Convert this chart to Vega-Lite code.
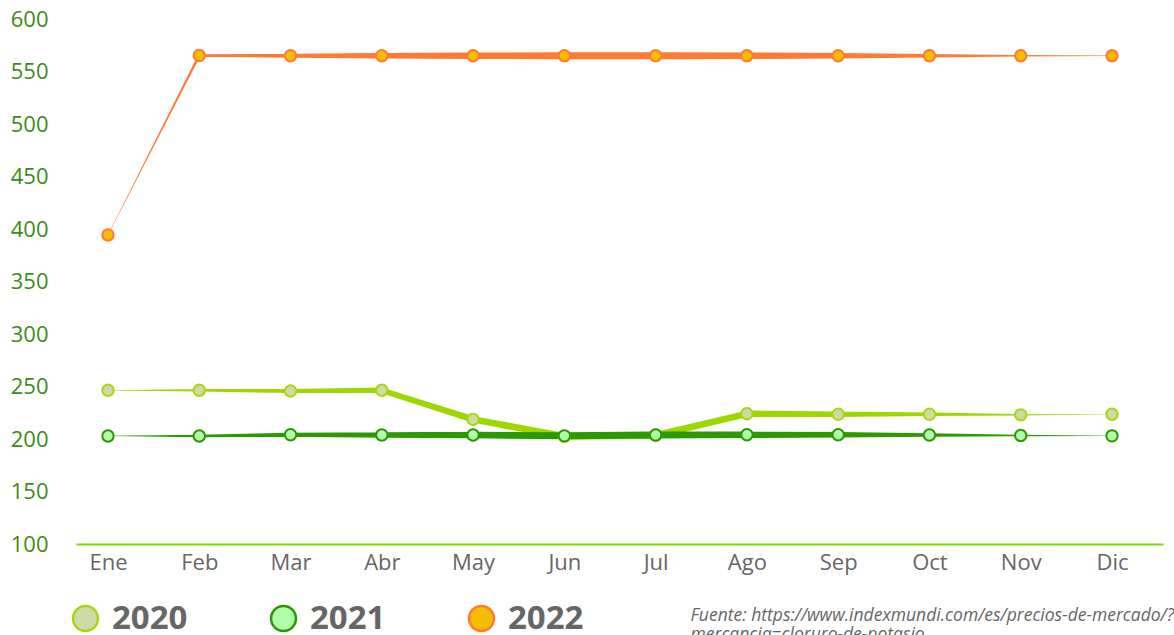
{
  "$schema": "https://vega.github.io/schema/vega-lite/v6.json",
  "autosize": "none",
  "width": 1087,
  "height": 525,
  "padding": {"left": 76, "top": 19, "right": 11, "bottom": 91},
  "background": "white",
  "config": {
    "view": {"stroke": null},
    "font": "Open Sans"
  },
  "data": {
    "values": [
      {"month": "Ene", "m": 1, "year": "2020", "value": 246.4},
      {"month": "Feb", "m": 2, "year": "2020", "value": 246.4},
      {"month": "Mar", "m": 3, "year": "2020", "value": 245.7},
      {"month": "Abr", "m": 4, "year": "2020", "value": 246.4},
      {"month": "May", "m": 5, "year": "2020", "value": 218.7},
      {"month": "Jun", "m": 6, "year": "2020", "value": 202.5},
      {"month": "Jul", "m": 7, "year": "2020", "value": 203.5},
      {"month": "Ago", "m": 8, "year": "2020", "value": 224},
      {"month": "Sep", "m": 9, "year": "2020", "value": 223.5},
      {"month": "Oct", "m": 10, "year": "2020", "value": 223.5},
      {"month": "Nov", "m": 11, "year": "2020", "value": 223},
      {"month": "Dic", "m": 12, "year": "2020", "value": 223.5},
      {"month": "Ene", "m": 1, "year": "2021", "value": 202.9},
      {"month": "Feb", "m": 2, "year": "2021", "value": 202.9},
      {"month": "Mar", "m": 3, "year": "2021", "value": 204},
      {"month": "Abr", "m": 4, "year": "2021", "value": 203.8},
      {"month": "May", "m": 5, "year": "2021", "value": 203.8},
      {"month": "Jun", "m": 6, "year": "2021", "value": 203},
      {"month": "Jul", "m": 7, "year": "2021", "value": 203.8},
      {"month": "Ago", "m": 8, "year": "2021", "value": 204},
      {"month": "Sep", "m": 9, "year": "2021", "value": 204},
      {"month": "Oct", "m": 10, "year": "2021", "value": 203.8},
      {"month": "Nov", "m": 11, "year": "2021", "value": 203.3},
      {"month": "Dic", "m": 12, "year": "2021", "value": 203},
      {"month": "Ene", "m": 1, "year": "2022", "value": 394.3},
      {"month": "Feb", "m": 2, "year": "2022", "value": 565.3},
      {"month": "Mar", "m": 3, "year": "2022", "value": 565},
      {"month": "Abr", "m": 4, "year": "2022", "value": 565},
      {"month": "May", "m": 5, "year": "2022", "value": 565},
      {"month": "Jun", "m": 6, "year": "2022", "value": 565},
      {"month": "Jul", "m": 7, "year": "2022", "value": 565},
      {"month": "Ago", "m": 8, "year": "2022", "value": 565},
      {"month": "Sep", "m": 9, "year": "2022", "value": 565},
      {"month": "Oct", "m": 10, "year": "2022", "value": 565},
      {"month": "Nov", "m": 11, "year": "2022", "value": 565},
      {"month": "Dic", "m": 12, "year": "2022", "value": 565}
    ]
  },
  "encoding": {
    "x": {
      "field": "month",
      "type": "ordinal",
      "sort": ["Ene", "Feb", "Mar", "Abr", "May", "Jun", "Jul", "Ago", "Sep", "Oct", "Nov", "Dic"],
      "scale": {"type": "point", "padding": 0.4547, "align": 0.3855},
      "axis": {
        "labelAngle": 0,
        "labelFontSize": 22,
        "labelColor": "#666666",
        "labelPadding": 8,
        "ticks": false,
        "grid": false,
        "domainColor": "#7ddc00",
        "domainWidth": 2,
        "title": ["Fuente: https://www.indexmundi.com/es/precios-de-mercado/?", "mercancia=cloruro-de-potasio"],
        "titleFontSize": 17.5,
        "titleFontStyle": "italic",
        "titleFontWeight": "normal",
        "titleColor": "#666666",
        "titleAlign": "left",
        "titleAnchor": "start",
        "titleBaseline": "alphabetic",
        "titleX": 614,
        "titleY": 76,
        "titleLineHeight": 19
      }
    },
    "y": {
      "field": "value",
      "type": "quantitative",
      "scale": {"domain": [100, 600], "nice": false, "zero": false},
      "axis": {
        "values": [100, 150, 200, 250, 300, 350, 400, 450, 500, 550, 600],
        "labelFontSize": 22,
        "labelColor": "#3d8b17",
        "labelPadding": 28,
        "ticks": false,
        "domain": false,
        "grid": false,
        "title": null
      }
    }
  },
  "layer": [
    {
      "transform": [{"filter": "datum.year === '2020'"}],
      "mark": {"type": "trail", "color": "#9ed600"},
      "encoding": {
        "size": {
          "field": "m",
          "type": "quantitative",
          "scale": {"type": "threshold", "domain": [1.5, 2.5, 3.5, 4.5, 5.5, 6.5, 7.5, 8.5, 9.5, 10.5, 11.5], "range": [0.3, 2.5, 4, 5.5, 6.5, 7, 7, 6.5, 5.5, 3.5, 1.5, 0.3]},
          "legend": null
        }
      }
    },
    {
      "transform": [{"filter": "datum.year === '2021'"}],
      "mark": {"type": "trail", "color": "#2a9a00"},
      "encoding": {
        "size": {
          "field": "m",
          "type": "quantitative",
          "scale": {"type": "threshold", "domain": [1.5, 2.5, 3.5, 4.5, 5.5, 6.5, 7.5, 8.5, 9.5, 10.5, 11.5], "range": [0.3, 2.5, 4, 5.5, 6.5, 7, 7, 6.5, 5.5, 3.5, 1.5, 0.3]},
          "legend": null
        }
      }
    },
    {
      "transform": [{"filter": "datum.year === '2022'"}],
      "mark": {"type": "trail", "color": "#ff7a33"},
      "encoding": {
        "size": {
          "field": "m",
          "type": "quantitative",
          "scale": {"type": "threshold", "domain": [1.5, 2.5, 3.5, 4.5, 5.5, 6.5, 7.5, 8.5, 9.5, 10.5, 11.5], "range": [0.3, 2.5, 4, 5.5, 6.5, 7, 7, 6.5, 5.5, 3.5, 1.5, 0.3]},
          "legend": null
        }
      }
    },
    {
      "mark": {"type": "point", "shape": "circle", "filled": true, "size": 130, "strokeWidth": 2, "opacity": 1},
      "encoding": {
        "color": {
          "field": "year",
          "type": "nominal",
          "scale": {"domain": ["2020", "2021", "2022"], "range": ["#cfd9aa", "#b0ffa8", "#f5bc00"]},
          "legend": {
            "orient": "none", "legendX": -7, "legendY": 583, "direction": "horizontal", "title": null,
            "symbolType": "circle", "symbolSize": 620, "symbolStrokeWidth": 2.5,
            "labelFontSize": 33, "labelFontWeight": "bold", "labelColor": "#666666", "labelOffset": 10,
            "columnPadding": 78
          }
        },
        "stroke": {
          "field": "year",
          "type": "nominal",
          "scale": {"domain": ["2020", "2021", "2022"], "range": ["#a8d80a", "#2a9600", "#ff7a33"]},
          "legend": {
            "orient": "none", "legendX": -7, "legendY": 583, "direction": "horizontal", "title": null,
            "symbolType": "circle", "symbolSize": 620, "symbolStrokeWidth": 2.5,
            "labelFontSize": 33, "labelFontWeight": "bold", "labelColor": "#666666", "labelOffset": 10,
            "columnPadding": 78
          }
        }
      }
    }
  ]
}
